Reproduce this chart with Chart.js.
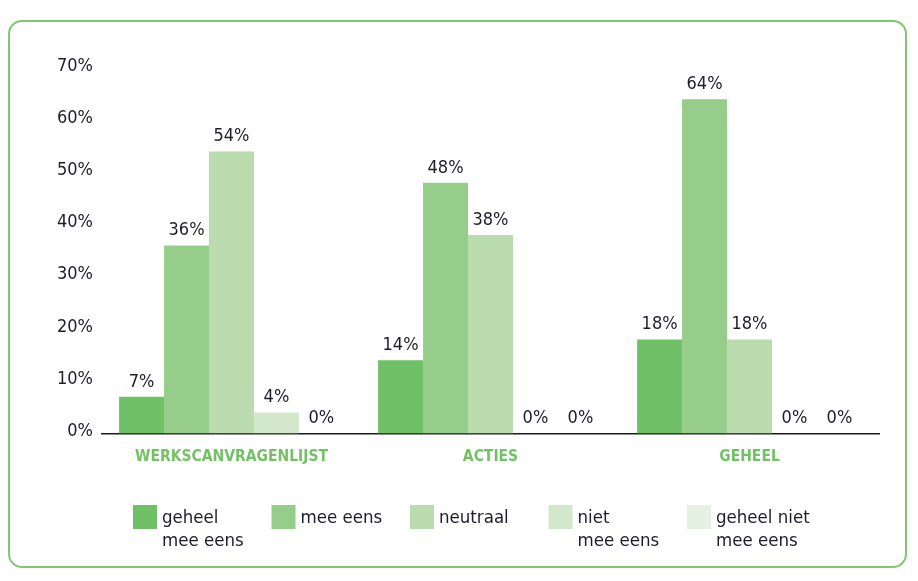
<!DOCTYPE html>
<html>
<head>
<meta charset="utf-8">
<script src="https://cdn.jsdelivr.net/npm/chart.js@4/dist/chart.umd.min.js"></script>
<style>
  html, body { margin: 0; padding: 0; background: #ffffff; }
  #wrap { position: relative; width: 918px; height: 581px; }
  #frame { position: absolute; left: 8px; top: 20px; width: 895px; height: 544px;
           border: 2px solid #7ec872; border-radius: 14px; pointer-events: none; }
  canvas { position: absolute; left: 0; top: 0; }
</style>
</head>
<body>
<div id="wrap">
  <div id="frame"></div>
  <canvas id="c" width="918" height="581"></canvas>
</div>
<script>
// ---- data ----
const categories = ['WERKSCANVRAGENLIJST', 'ACTIES', 'GEHEEL'];
const seriesLabels = [['geheel', 'mee eens'], ['mee eens'], ['neutraal'], ['niet', 'mee eens'], ['geheel niet', 'mee eens']];
const geheelMeeEens = [7, 14, 18];
const meeEens = [36, 48, 64];
const neutraal = [54, 38, 18];
const nietMeeEens = [4, 0, 0];
const geheelNietMeeEens = [0, 0, 0];
const yMin = 0, yMax = 70, yStep = 10;

const seriesValues = [geheelMeeEens, meeEens, neutraal, nietMeeEens, geheelNietMeeEens];
const seriesColors = ['#6fc067', '#97cd8b', '#badcae', '#d3e8cb', '#e6f2e1'];

const FONT = "'DejaVu Sans Condensed', 'Noto Sans', sans-serif";
const TEXT_COLOR = '#1d1d2b';

const valueLabels = {
  id: 'valueLabels',
  afterDatasetsDraw(chart) {
    const ctx = chart.ctx;
    ctx.save();
    ctx.font = '18px ' + FONT;
    ctx.fillStyle = TEXT_COLOR;
    ctx.textAlign = 'center';
    ctx.textBaseline = 'bottom';
    chart.data.datasets.forEach((ds, i) => {
      const meta = chart.getDatasetMeta(i);
      meta.data.forEach((bar, j) => {
        ctx.fillText(ds.data[j] + '%', bar.x, bar.y - 6);
      });
    });
    ctx.restore();
  }
};

const customLegend = {
  id: 'customLegend',
  afterDraw(chart) {
    const ctx = chart.ctx;
    const left = 133, top = 505, colW = 138.5, box = 24, lineH = 23;
    ctx.save();
    ctx.font = '18.5px ' + FONT;
    ctx.textAlign = 'left';
    ctx.textBaseline = 'middle';
    chart.data.datasets.forEach((ds, i) => {
      const x = left + i * colW;
      ctx.fillStyle = ds.backgroundColor;
      ctx.fillRect(x, top, box, box);
      ctx.fillStyle = TEXT_COLOR;
      seriesLabels[i].forEach((line, k) => {
        ctx.fillText(line, x + 29, top + 13 + k * lineH);
      });
    });
    ctx.restore();
  }
};

new Chart(document.getElementById('c'), {
  type: 'bar',
  data: {
    labels: categories,
    datasets: seriesValues.map((vals, i) => ({
      label: seriesLabels[i].join(' '),
      data: vals,
      backgroundColor: seriesColors[i],
      borderWidth: 0,
      barPercentage: 1.0,
      categoryPercentage: 0.868
    }))
  },
  options: {
    responsive: false,
    animation: false,
    devicePixelRatio: 1,
    layout: { padding: { left: 48, right: 39, top: 68, bottom: 101 } },
    plugins: {
      legend: { display: false },
      tooltip: { enabled: false }
    },
    scales: {
      x: {
        grid: { display: false, drawTicks: false },
        border: { display: true, color: '#1a1a1a', width: 1.5 },
        ticks: {
          color: '#72c265',
          font: { family: FONT, size: 15.5, weight: 'bold' },
          padding: 14,
          maxRotation: 0,
          autoSkip: false
        }
      },
      y: {
        min: yMin, max: yMax,
        grid: { display: false, drawTicks: false },
        border: { display: false },
        ticks: {
          stepSize: yStep,
          color: TEXT_COLOR,
          font: { family: FONT, size: 18 },
          padding: 9,
          labelOffset: -2,
          callback: v => v + '%'
        }
      }
    }
  },
  plugins: [valueLabels, customLegend]
});
</script>
</body>
</html>
